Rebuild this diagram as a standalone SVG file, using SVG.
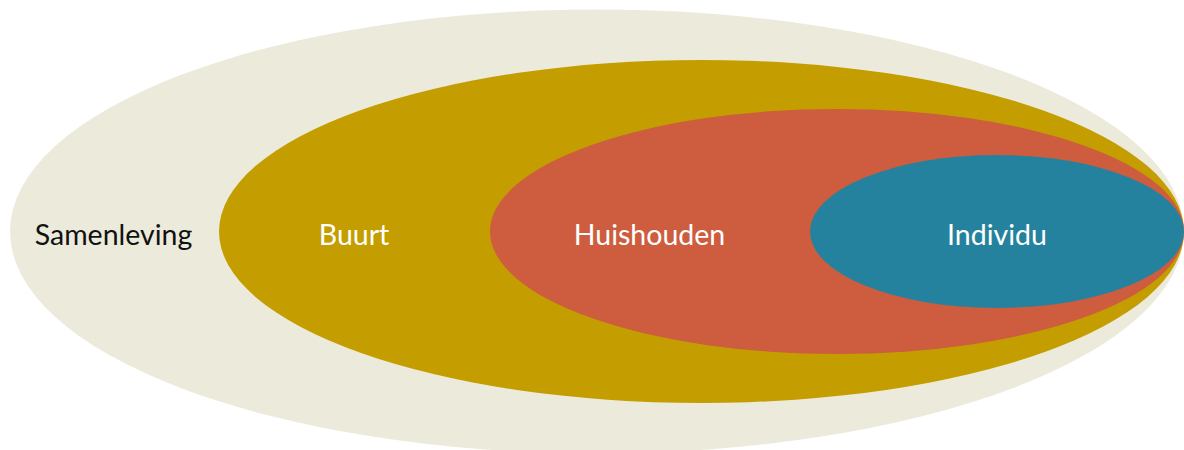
<svg xmlns="http://www.w3.org/2000/svg" width="1184" height="450" viewBox="0 0 1184 450">
<style>
text{font-family:Lato,"Open Sans","Liberation Sans",sans-serif;font-size:28.5px;text-anchor:middle}
.w{fill:#ffffff}
.k{fill:#111111}
</style>
<rect width="1184" height="450" fill="#ffffff"/>
<g id="samenleving">
<ellipse cx="597" cy="231.5" rx="587" ry="222" fill="#ECEBDB"/>
<text class="k" x="113.5" y="245">Samenleving</text>
</g>
<g id="buurt">
<ellipse cx="701.5" cy="231.5" rx="482.5" ry="171.5" fill="#C49D00"/>
<text class="w" x="354" y="245">Buurt</text>
</g>
<g id="huishouden">
<ellipse cx="837" cy="231.5" rx="347" ry="122.5" fill="#CD5D3E"/>
<text class="w" x="649.5" y="245">Huishouden</text>
</g>
<g id="individu">
<ellipse cx="997" cy="231.5" rx="187" ry="76.5" fill="#25829E"/>
<text class="w" x="997" y="245">Individu</text>
</g>
<g id="connectors"/>
</svg>
